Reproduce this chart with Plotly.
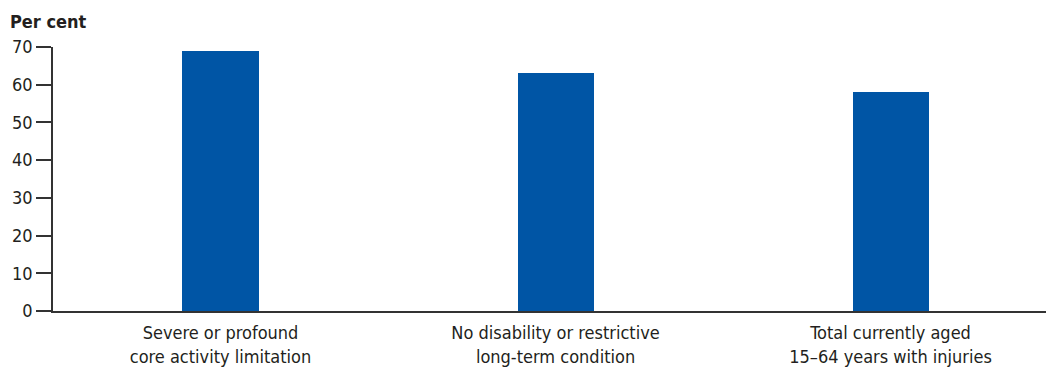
import plotly.graph_objects as go

categories = ["Severe or profound<br>core activity limitation",
              "No disability or restrictive<br>long-term condition",
              "Total currently aged<br>15\u201364 years with injuries"]
values = [69, 63, 58]
y_ticks = [0, 10, 20, 30, 40, 50, 60, 70]

FONT = "DejaVu Sans Condensed, Liberation Sans Narrow, Arial Narrow, sans-serif"
TXT = "#231f20"

fig = go.Figure(go.Bar(x=categories, y=values, marker=dict(color="#0055a5", line=dict(width=0)),
                       width=0.227, hoverinfo="skip"))

fig.update_layout(
    width=1046, height=369,
    margin=dict(l=53, r=0, t=47, b=58),
    paper_bgcolor="white", plot_bgcolor="white",
    font=dict(family=FONT, size=18, color=TXT),
    showlegend=False,
    bargap=0,
    xaxis=dict(range=[-0.5, 2.464], showline=True, linecolor="#333333", linewidth=1.5,
               ticks="", showgrid=False, zeroline=False, ticklabelstandoff=5,
               tickfont=dict(size=18, color=TXT)),
    yaxis=dict(range=[0, 70], tickvals=y_ticks, showline=True, linecolor="#333333", linewidth=1.5,
               ticks="outside", ticklen=15, tickwidth=1.5, tickcolor="#333333",
               showgrid=False, zeroline=False, tickfont=dict(size=18, color=TXT)),
    annotations=[dict(text="<b>Per cent</b>", x=-45/993, y=1 + 25/264, xref="paper", yref="paper",
                      xanchor="left", yanchor="middle", showarrow=False,
                      font=dict(family=FONT, size=18, color=TXT))],
)

fig.write_html("out.html")
